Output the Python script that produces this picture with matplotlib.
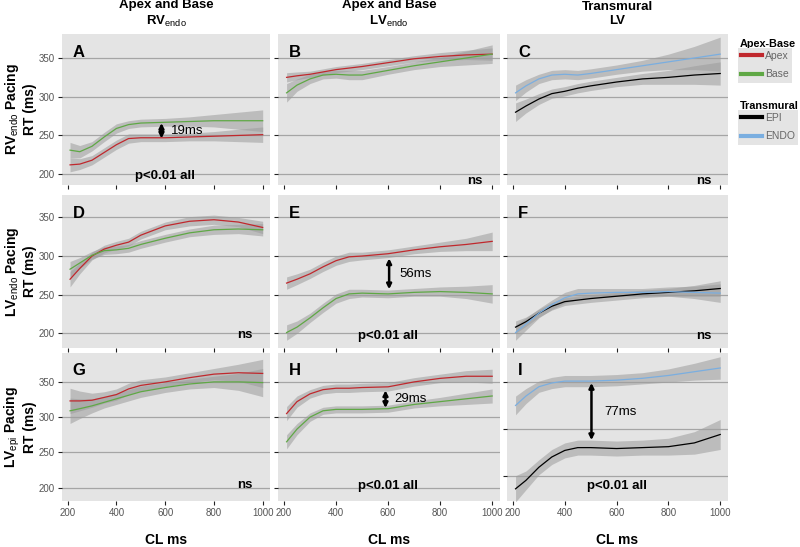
import numpy as np
import matplotlib.pyplot as plt
from matplotlib.lines import Line2D

plt.rcParams['font.family'] = ['Liberation Sans', 'DejaVu Sans']
plt.rcParams['mathtext.fontset'] = 'custom'
plt.rcParams['mathtext.rm'] = 'Liberation Sans'
plt.rcParams['mathtext.bf'] = 'Liberation Sans:bold'

# cycle length (ms) at which the fitted curves were read
cl = [210, 250, 300, 350, 400, 450, 500, 600, 700, 800, 900, 1000]

# RV endo pacing
A_apex = [212, 213, 218, 228, 238, 246, 247, 247, 248, 249, 250, 251]
A_apex_ci = [9, 7, 6, 6, 6, 6, 5, 5, 5, 6, 8, 10]
A_base = [231, 229, 236, 248, 259, 264, 266, 267, 268, 269, 269, 269]
A_base_ci = [10, 8, 6, 6, 6, 5, 5, 5, 6, 8, 11, 14]
B_apex = [325, 327, 329, 332, 335, 337, 339, 344, 349, 352, 354, 355]
B_apex_ci = [6, 5, 4, 4, 4, 4, 4, 4, 4, 5, 6, 8]
B_base = [305, 315, 323, 328, 329, 328, 328, 334, 340, 345, 350, 355]
B_base_ci = [12, 8, 6, 5, 5, 6, 6, 5, 5, 6, 9, 12]
C_epi = [280, 288, 297, 304, 307, 311, 314, 319, 323, 325, 328, 330]
C_epi_ci = [12, 9, 7, 6, 6, 6, 6, 6, 7, 9, 12, 15]
C_endo = [305, 314, 323, 328, 329, 328, 330, 335, 340, 345, 350, 355]
C_endo_ci = [10, 8, 6, 6, 6, 6, 6, 6, 7, 10, 15, 22]

# LV endo pacing
D_apex = [270, 284, 300, 309, 314, 318, 327, 339, 345, 347, 344, 337]
D_apex_ci = [10, 7, 5, 5, 5, 5, 5, 5, 6, 6, 6, 8]
D_base = [283, 291, 301, 307, 308, 310, 315, 323, 330, 334, 335, 334]
D_base_ci = [10, 7, 5, 5, 5, 5, 5, 5, 5, 6, 6, 8]
E_apex = [265, 270, 277, 286, 294, 299, 300, 303, 308, 312, 315, 319]
E_apex_ci = [8, 7, 6, 6, 6, 6, 5, 5, 5, 6, 8, 12]
E_base = [201, 208, 220, 233, 245, 251, 252, 251, 253, 254, 253, 251]
E_base_ci = [10, 8, 6, 6, 6, 6, 5, 5, 5, 6, 8, 12]
F_epi = [208, 215, 226, 235, 241, 243, 245, 248, 251, 253, 255, 258]
F_epi_ci = [8, 6, 5, 5, 5, 5, 5, 5, 5, 5, 7, 10]
F_endo = [201, 212, 226, 237, 246, 251, 252, 253, 253, 254, 253, 252]
F_endo_ci = [10, 8, 6, 6, 7, 7, 6, 5, 5, 6, 8, 12]

# LV epi pacing
G_apex = [323, 323, 324, 328, 332, 340, 345, 350, 356, 361, 363, 362]
G_apex_ci = [18, 14, 10, 8, 8, 8, 8, 7, 7, 8, 12, 20]
G_base = [309, 312, 316, 321, 326, 331, 336, 342, 347, 350, 350, 349]
G_base_ci = [18, 14, 10, 8, 8, 8, 8, 7, 7, 8, 12, 20]
H_apex = [305, 322, 333, 339, 341, 341, 342, 343, 350, 355, 358, 358]
H_apex_ci = [10, 8, 6, 6, 6, 6, 6, 6, 6, 6, 8, 10]
H_base = [265, 283, 300, 309, 311, 311, 311, 312, 318, 322, 326, 330]
H_base_ci = [10, 8, 6, 5, 5, 5, 5, 5, 5, 6, 8, 10]
I_epi = [236, 245, 259, 270, 277, 280, 280, 279, 280, 281, 285, 294]
I_epi_ci = [14, 10, 8, 8, 8, 8, 8, 8, 8, 9, 12, 16]
I_endo = [325, 335, 345, 349, 351, 351, 351, 352, 354, 357, 361, 365]
I_endo_ci = [10, 8, 6, 6, 6, 6, 6, 6, 6, 7, 9, 12]

col_titles = [r'Apex and Base' + '\n' + r'RV$_{\rm endo}$',
              r'Apex and Base' + '\n' + r'LV$_{\rm endo}$',
              'Transmural\nLV']
row_titles = [r'RV$_{\rm endo}$ Pacing', r'LV$_{\rm endo}$ Pacing', r'LV$_{\rm epi}$ Pacing']
yticks = [200, 250, 300, 350]
xticks = [200, 400, 600, 800, 1000]

RED = '#c0282d'
GREEN = '#5fa845'
BLACK = '#000000'
BLUE = '#7aaee0'

# (letter, first series, ci, colour, second series, ci, colour)
panels = [
    ('A', A_apex, A_apex_ci, RED, A_base, A_base_ci, GREEN),
    ('B', B_apex, B_apex_ci, RED, B_base, B_base_ci, GREEN),
    ('C', C_epi, C_epi_ci, BLACK, C_endo, C_endo_ci, BLUE),
    ('D', D_apex, D_apex_ci, RED, D_base, D_base_ci, GREEN),
    ('E', E_apex, E_apex_ci, RED, E_base, E_base_ci, GREEN),
    ('F', F_epi, F_epi_ci, BLACK, F_endo, F_endo_ci, BLUE),
    ('G', G_apex, G_apex_ci, RED, G_base, G_base_ci, GREEN),
    ('H', H_apex, H_apex_ci, RED, H_base, H_base_ci, GREEN),
    ('I', I_epi, I_epi_ci, BLACK, I_endo, I_endo_ci, BLUE),
]

# y range of each panel (panel I has its own scale)
ylims = {
    'A': (186, 381), 'B': (186, 381), 'C': (186, 381),
    'D': (181, 379), 'E': (181, 379), 'F': (181, 379),
    'G': (181, 391), 'H': (181, 391), 'I': (223, 381),
}

# statistics text: panel -> (label, x, y)
stats = {
    'A': ('p<0.01 all', 600, 197), 'B': ('ns', 935, 191), 'C': ('ns', 935, 191),
    'D': ('ns', 925, 198), 'E': ('p<0.01 all', 600, 197), 'F': ('ns', 935, 197),
    'G': ('ns', 925, 203), 'H': ('p<0.01 all', 600, 202), 'I': ('p<0.01 all', 600, 239),
}

# difference arrows: panel -> (x, low, high, label, label x)
arrows = {
    'A': (585, 246, 266, '19ms', 625),
    'E': (604, 257, 297, '56ms', 644),
    'H': (590, 313, 338, '29ms', 625),
    'I': (503, 288, 349, '77ms', 553),
}

W, H = 800, 547
col_px = [(62, 270), (278, 500), (507, 728)]
row_px = [(34, 185), (195, 348), (353, 501)]

fig = plt.figure(figsize=(8, 5.47), dpi=100)
bg = '#e4e4e4'
band = '#9c9c9c'

for k, (letter, s1, c1, col1, s2, c2, col2) in enumerate(panels):
    r, c = divmod(k, 3)
    x0, x1 = col_px[c]
    y0, y1 = row_px[r]
    ax = fig.add_axes([x0 / W, 1 - y1 / H, (x1 - x0) / W, (y1 - y0) / H])
    ax.set_facecolor(bg)
    for sp in ax.spines.values():
        sp.set_visible(False)
    x = np.array(cl, dtype=float)
    for s, ci in [(s1, c1), (s2, c2)]:
        s = np.array(s, dtype=float)
        ci = np.array(ci, dtype=float)
        ax.fill_between(x, s - ci, s + ci, color=band, alpha=0.55, lw=0, zorder=2)
    for s, colr in [(s1, col1), (s2, col2)]:
        ax.plot(x, s, color=colr, lw=0.9, zorder=3)
    ax.set_yticks(yticks)
    ax.set_xticks(xticks)
    ax.set_xlim(177, 1030)
    ax.set_ylim(*ylims[letter])
    ax.grid(axis='y', color='#a5a5a5', lw=0.9, zorder=1)
    ax.set_axisbelow(True)
    ax.tick_params(axis='both', direction='out', length=3, width=0.8, color='#222222',
                   labelsize=7, labelcolor='#555555', pad=2)
    if c != 0:
        ax.set_yticklabels([])
    else:
        ax.set_ylabel('RT (ms)', fontsize=10, fontweight='bold')
        ax.yaxis.set_label_coords(-(x0 - 37) / (x1 - x0), 0.5)
    if r != 2:
        ax.set_xticklabels([])
    ax.text(0.05, 0.93, letter, transform=ax.transAxes, fontsize=12, fontweight='bold',
            ha='left', va='top')
    lab, sx, sy = stats[letter]
    ax.text(sx, sy, lab, fontsize=9.5, fontweight='bold', ha='center', va='center', zorder=5)
    if letter in arrows:
        ax_x, lo, hi, lab, tx = arrows[letter]
        ax.annotate('', xy=(ax_x, hi), xytext=(ax_x, lo),
                    arrowprops=dict(arrowstyle='<|-|>', color='k', lw=1.8,
                                    mutation_scale=7, shrinkA=0, shrinkB=0), zorder=5)
        ax.text(tx, (lo + hi) / 2, lab, fontsize=9.5, ha='left', va='center', zorder=5)

for c, t in enumerate(col_titles):
    xc = (col_px[c][0] + col_px[c][1]) / 2 / W
    fig.text(xc, 1 - 14 / H, t, ha='center', va='center', fontsize=9.5, fontweight='bold',
             linespacing=1.3)
    fig.text(xc, 1 - 540 / H, 'CL ms', ha='center', va='center', fontsize=10, fontweight='bold')

for r, t in enumerate(row_titles):
    yc = 1 - (row_px[r][0] + row_px[r][1]) / 2 / H
    fig.text(12 / W, yc, t, ha='center', va='center', rotation=90, fontsize=10,
             fontweight='bold')

# legends
leg_specs = [
    ('Apex-Base', [('Apex', RED), ('Base', GREEN)], 44, 48),
    ('Transmural', [('EPI', BLACK), ('ENDO', BLUE)], 106, 110),
]
for title, items, ty, ly in leg_specs:
    fig.text(740 / W, 1 - ty / H, title, fontsize=7.8, fontweight='bold', ha='left', va='center')
    handles = [Line2D([], [], color=cc, lw=3) for _, cc in items]
    labels = [lab for lab, _ in items]
    lg = fig.legend(handles, labels, loc='upper left', bbox_to_anchor=(738 / W, 1 - ly / H),
                    frameon=True, facecolor=bg, edgecolor='none', fancybox=False,
                    fontsize=7.5, handlelength=2.0, handletextpad=0.3, labelspacing=0.8,
                    borderpad=0.3, borderaxespad=0)
    lg.get_frame().set_alpha(1)
    for t in lg.get_texts():
        t.set_color('#666666')

fig.savefig('out.png', dpi=100)
